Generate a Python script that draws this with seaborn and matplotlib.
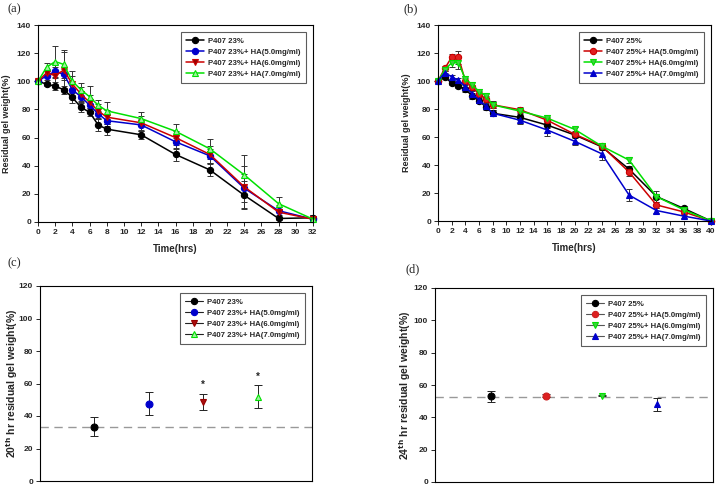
import numpy as np
import pandas as pd
import matplotlib
matplotlib.use("Agg")
import matplotlib.pyplot as plt
import seaborn as sns

# ---------------- data ----------------
time_a = [0, 1, 2, 3, 4, 5, 6, 7, 8, 12, 16, 20, 24, 28, 32]
labels_a = ["P407 23%", "P407 23%+ HA(5.0mg/ml)", "P407 23%+ HA(6.0mg/ml)", "P407 23%+ HA(7.0mg/ml)"]
a_black = [100, 98, 96.5, 94, 88.5, 81.5, 78, 69, 66, 62, 48, 37, 19, 2.5, 3]
a_blue = [100, 104, 107, 105, 94, 89, 83, 77, 72, 69, 57, 47, 24, 8, 2]
a_red = [100, 106, 104, 108, 98, 91, 85, 79, 74.5, 70.5, 60, 48, 25, 7, 2]
a_green = [100, 110, 114, 112, 100, 94, 89, 83, 79, 73.5, 64.5, 52, 33.5, 13, 2]
a_black_err = [0, 1.5, 3, 3, 4, 3, 3, 4.5, 4, 3, 4.5, 4, 10, 1, 2]
a_blue_err = [0, 3, 5, 4, 4, 4, 4, 4, 4, 4, 5, 5, 10, 3, 3]
a_red_err = [0, 3, 6, 13, 6, 5, 5, 5, 5, 5, 5, 6, 15, 5, 3]
a_green_err = [0, 3, 11, 10, 7, 5, 8, 4, 6, 5, 5, 7, 14, 5, 3]

time_b = [0, 1, 2, 3, 4, 5, 6, 7, 8, 12, 16, 20, 24, 28, 32, 36, 40]
labels_b = ["P407 25%", "P407 25%+ HA(5.0mg/ml)", "P407 25%+ HA(6.0mg/ml)", "P407 25%+ HA(7.0mg/ml)"]
b_black = [100, 103, 98.5, 96.5, 94, 89.5, 86, 81.5, 77, 74, 68.5, 61.5, 53, 37, 17.5, 9, 0]
b_red = [100, 109, 117, 117, 100, 95.5, 91, 87, 83, 79.5, 72, 62, 53.5, 35, 11.5, 6.5, 0]
b_green = [100, 108, 113, 113, 101.5, 97.5, 92.5, 89.5, 83, 78.5, 73.5, 65.5, 53.5, 43.5, 17.5, 8, 0]
b_blue = [100, 106, 103, 100.5, 96, 91, 86.5, 82, 77, 72, 65, 57, 48, 18.5, 7.5, 3.5, 0]
b_black_err = [0, 1.5, 1.5, 1.5, 1.5, 2, 2, 2, 2, 2, 2, 2, 2, 2, 4, 1.5, 0]
b_red_err = [0, 2, 2.5, 4.5, 2, 2, 2, 2, 2, 2, 2, 2, 2, 3, 2, 1.5, 0]
b_green_err = [0, 2, 3, 4.5, 2, 2, 2, 2, 2.5, 2, 2, 2, 2, 2, 2, 1.5, 0]
b_blue_err = [0, 1.5, 1.5, 1.5, 1.5, 2, 2, 2, 2, 3, 4.5, 3, 4.5, 4.5, 1.5, 1, 0]

cat_pos = [1, 2, 3, 4]
c_vals = [33.5, 47.5, 48.5, 52]
c_err = [6, 7, 5, 7]
c_ref = 33
c_star = [None, None, 59, 64]
d_vals = [53, 53.5, 53.5, 48]
d_err = [3.5, 1, 0.5, 4]
d_ref = 52.5

# ---------------- style ----------------
sns.set_theme(style="ticks")
plt.rcParams["font.family"] = ["Liberation Sans", "DejaVu Sans"]
plt.rcParams["font.weight"] = "bold"

BLACK = "#000000"
BLUE = "#0000cc"
RED = "#cc0000"
DRED = "#990000"
GREEN = "#00e000"

fig = plt.figure(figsize=(7.17, 4.87), dpi=100)
W, H = 717, 487


def add_ax(l, t, r, b):
    return fig.add_axes([l / W, 1 - b / H, (r - l) / W, (b - t) / H])


ax_a = add_ax(38, 25, 313, 222)
ax_b = add_ax(438, 25, 711, 221)
ax_c = add_ax(40, 286, 312, 481)
ax_d = add_ax(435, 288, 713, 482)

LEG_KW = dict(loc="upper right", frameon=True, fancybox=False, edgecolor="#333333",
              handlelength=2.3, handletextpad=0.5, borderpad=0.7, labelspacing=0.45,
              borderaxespad=0.0, prop={"weight": "bold", "size": 5.6})


def style_ax(ax):
    for s in ax.spines.values():
        s.set_linewidth(0.8)
        s.set_color("black")
        s.set_visible(True)
    ax.tick_params(axis="both", direction="out", length=3, width=0.7,
                   labelsize=6, pad=2)
    for lab in ax.get_xticklabels() + ax.get_yticklabels():
        lab.set_fontweight("bold")
    ax.grid(False)


def series_plot(ax, t, y, err, color, marker, mfc, label):
    df = pd.DataFrame({"t": t, "y": y})
    sns.lineplot(data=df, x="t", y="y", ax=ax, color=color, marker=marker,
                 markersize=4.5, markerfacecolor=mfc, markeredgecolor=color,
                 markeredgewidth=0.8, linewidth=1.1, label=label, clip_on=False)
    ax.errorbar(t, y, yerr=err, fmt="none", ecolor="#333333", elinewidth=0.7,
                capsize=2.5, capthick=0.7, zorder=1)


# panel (a)
series_plot(ax_a, time_a, a_black, a_black_err, BLACK, "o", BLACK, labels_a[0])
series_plot(ax_a, time_a, a_blue, a_blue_err, BLUE, "o", BLUE, labels_a[1])
series_plot(ax_a, time_a, a_red, a_red_err, RED, "v", DRED, labels_a[2])
series_plot(ax_a, time_a, a_green, a_green_err, GREEN, "^", "#a0f0a0", labels_a[3])
ax_a.set_xlim(0, 32)
ax_a.set_xticks(np.arange(0, 33, 2))
ax_a.set_ylim(0, 140)
ax_a.set_yticks(np.arange(0, 141, 20))

# panel (b)
series_plot(ax_b, time_b, b_black, b_black_err, BLACK, "o", BLACK, labels_b[0])
series_plot(ax_b, time_b, b_red, b_red_err, RED, "o", "#e02020", labels_b[1])
series_plot(ax_b, time_b, b_green, b_green_err, GREEN, "v", "#40d040", labels_b[2])
series_plot(ax_b, time_b, b_blue, b_blue_err, BLUE, "^", BLUE, labels_b[3])
ax_b.set_xlim(0, 40)
ax_b.set_xticks(np.arange(0, 41, 2))
ax_b.set_ylim(0, 140)
ax_b.set_yticks(np.arange(0, 141, 20))

for ax in (ax_a, ax_b):
    ax.set_xlabel("Time(hrs)", fontsize=7, fontweight="bold", labelpad=6)
    ax.set_ylabel("Residual gel weight(%)", fontsize=6.5, fontweight="bold", labelpad=4)
    style_ax(ax)
    leg = ax.legend(bbox_to_anchor=(0.975, 0.965), **LEG_KW)
    leg.get_frame().set_linewidth(0.8)


# panels (c) and (d)
def cat_plot(ax, vals, err, specs, labels, ref, stars=None, legline="#222222"):
    for i, (pos, v, e) in enumerate(zip(cat_pos, vals, err)):
        color, marker, mfc = specs[i]
        df = pd.DataFrame({"x": [pos], "y": [v]})
        sns.lineplot(data=df, x="x", y="y", ax=ax, color=color, marker=marker,
                     markersize=5, markerfacecolor=mfc, markeredgecolor=color,
                     markeredgewidth=0.8, linewidth=1.0, label=labels[i])
        ax.errorbar([pos], [v], yerr=[e], fmt="none", ecolor="#222222",
                    elinewidth=0.7, capsize=3, capthick=0.7, zorder=1)
    ax.axhline(ref, color="#999999", linestyle=(0, (6, 4)), linewidth=1.0, zorder=0)
    if stars is not None:
        for pos, s in zip(cat_pos, stars):
            if s is not None:
                ax.text(pos, s, "*", ha="center", va="center", fontsize=7,
                        fontweight="bold")
    ax.set_xlim(0, 5)
    ax.set_xticks([])
    ax.set_ylim(0, 120)
    ax.set_yticks(np.arange(0, 121, 20))
    ax.set_xlabel("")
    style_ax(ax)
    leg = ax.legend(bbox_to_anchor=(0.975, 0.965), **LEG_KW)
    leg.get_frame().set_linewidth(0.8)
    for h, (color, marker, mfc) in zip(leg.get_lines(), specs):
        h.set_color(legline)
        h.set_linewidth(0.8)
        h.set_markerfacecolor(mfc)
        h.set_markeredgecolor(color)
        h.set_markersize(4.5)


specs_c = [(BLACK, "o", BLACK), (BLUE, "o", BLUE), (DRED, "v", "#aa1010"), (GREEN, "^", "#a0f0a0")]
specs_d = [(BLACK, "o", BLACK), ("#cc2020", "o", "#dd2020"), (GREEN, "v", "#40d040"), (BLUE, "^", BLUE)]
cat_plot(ax_c, c_vals, c_err, specs_c, labels_a, c_ref, c_star, legline="#222222")
cat_plot(ax_d, d_vals, d_err, specs_d, labels_b, d_ref, legline="#555555")

ax_c.set_ylabel(r"20$^{\mathbf{th}}$ hr residual gel weight(%)", fontsize=7.6,
                fontweight="bold")
ax_c.yaxis.set_label_coords(-0.075, 0.5)
ax_d.set_ylabel(r"24$^{\mathbf{th}}$ hr residual gel weight(%)", fontsize=7.6,
                fontweight="bold")
ax_d.yaxis.set_label_coords(-0.08, 0.5)

# panel letters
for txt, x, y in (("(a)", 7, 9), ("(b)", 403, 9), ("(c)", 7, 263), ("(d)", 406, 269)):
    fig.text(x / W, 1 - y / H, txt, fontsize=9, family="Liberation Serif",
             fontweight="normal", ha="left", va="center")

fig.savefig("out.png", dpi=100, facecolor="white")
